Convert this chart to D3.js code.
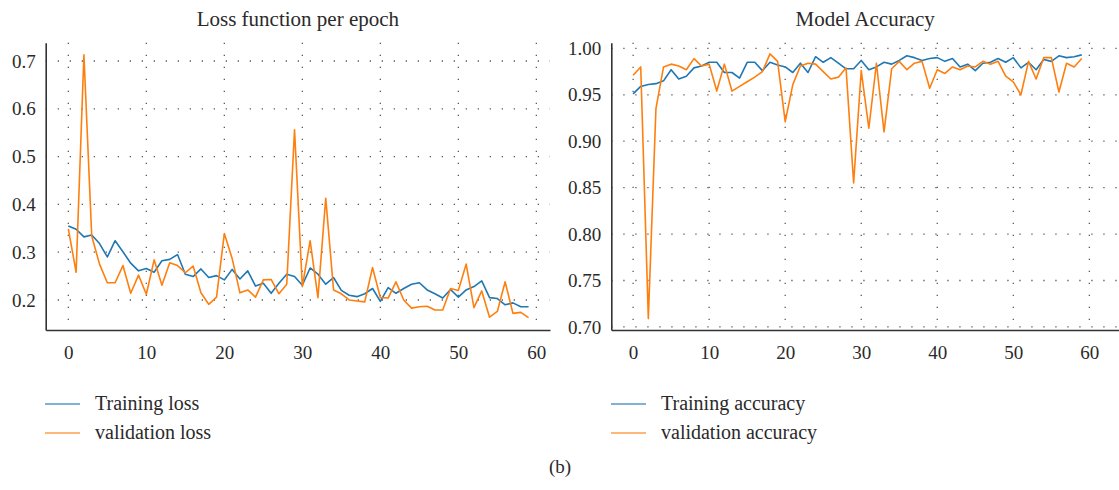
<!DOCTYPE html>
<html>
<head>
<meta charset="utf-8">
<script src="https://cdn.jsdelivr.net/npm/d3@7"></script>
<style>
  html, body { margin: 0; padding: 0; background: #fff; }
  svg { display: block; }
  text { font-family: "Liberation Serif", "DejaVu Serif", serif; fill: #2a2a2a; }
</style>
</head>
<body>
<svg id="fig" width="1119" height="490"></svg>
<script>
// Epoch-wise training history
const epochs = d3.range(0, 60);

const trainLoss = [
  0.355, 0.348, 0.332, 0.336, 0.318, 0.290, 0.324, 0.301, 0.277, 0.261,
  0.266, 0.258, 0.282, 0.285, 0.295, 0.254, 0.249, 0.265, 0.247, 0.251,
  0.242, 0.264, 0.244, 0.261, 0.229, 0.235, 0.214, 0.235, 0.254, 0.249,
  0.231, 0.267, 0.254, 0.233, 0.247, 0.220, 0.210, 0.207, 0.213, 0.224,
  0.197, 0.226, 0.214, 0.224, 0.233, 0.236, 0.221, 0.213, 0.204, 0.222,
  0.206, 0.221, 0.228, 0.240, 0.205, 0.203, 0.190, 0.194, 0.186, 0.186
];
const valLoss = [
  0.349, 0.258, 0.713, 0.334, 0.275, 0.236, 0.236, 0.272, 0.214, 0.252,
  0.212, 0.284, 0.231, 0.278, 0.272, 0.257, 0.271, 0.215, 0.191, 0.206,
  0.339, 0.287, 0.215, 0.221, 0.206, 0.242, 0.243, 0.213, 0.233, 0.556,
  0.228, 0.324, 0.205, 0.413, 0.221, 0.213, 0.200, 0.198, 0.196, 0.268,
  0.205, 0.204, 0.238, 0.200, 0.183, 0.186, 0.187, 0.179, 0.179, 0.224,
  0.220, 0.275, 0.184, 0.219, 0.164, 0.176, 0.238, 0.172, 0.174, 0.163
];
const trainAcc = [
  0.951, 0.959, 0.961, 0.962, 0.965, 0.977, 0.967, 0.970, 0.979, 0.981,
  0.985, 0.985, 0.974, 0.974, 0.968, 0.985, 0.985, 0.976, 0.985, 0.982,
  0.980, 0.974, 0.984, 0.974, 0.991, 0.985, 0.990, 0.984, 0.978, 0.978,
  0.987, 0.977, 0.980, 0.985, 0.983, 0.987, 0.992, 0.990, 0.987, 0.989,
  0.990, 0.986, 0.989, 0.980, 0.983, 0.976, 0.984, 0.985, 0.989, 0.985,
  0.990, 0.979, 0.985, 0.977, 0.988, 0.986, 0.992, 0.990, 0.991, 0.993
];
const valAcc = [
  0.971, 0.980, 0.709, 0.935, 0.980, 0.983, 0.981, 0.977, 0.989, 0.981,
  0.983, 0.954, 0.983, 0.954, 0.959, 0.964, 0.969, 0.975, 0.994, 0.986,
  0.921, 0.961, 0.981, 0.984, 0.983, 0.975, 0.967, 0.969, 0.979, 0.855,
  0.976, 0.914, 0.984, 0.910, 0.978, 0.986, 0.977, 0.984, 0.986, 0.957,
  0.977, 0.973, 0.980, 0.977, 0.981, 0.980, 0.986, 0.983, 0.986, 0.970,
  0.964, 0.950, 0.986, 0.967, 0.990, 0.990, 0.953, 0.984, 0.980, 0.989
];

const xTicks = [0, 10, 20, 30, 40, 50, 60];
const lossTicks = [0.2, 0.3, 0.4, 0.5, 0.6, 0.7];
const accTicks = [0.70, 0.75, 0.80, 0.85, 0.90, 0.95, 1.00];

const BLUE = "#1f77b4";
const ORANGE = "#ff7f0e";
const SERIF = '"Liberation Serif", "DejaVu Serif", serif';

const svg = d3.select("#fig");

function panel(cfg) {
  const g = svg.append("g");
  const x = d3.scaleLinear().domain(cfg.xDomain).range(cfg.xRange);
  const y = d3.scaleLinear().domain(cfg.yDomain).range(cfg.yRange);

  // dotted grid
  const grid = g.append("g")
    .attr("stroke", "#5a5a5a")
    .attr("stroke-width", 1.3)
    .attr("stroke-dasharray", "1.3,10.7")
    .attr("fill", "none");
  grid.selectAll("line.v").data(xTicks).join("line")
    .attr("class", "v")
    .attr("x1", d => x(d)).attr("x2", d => x(d))
    .attr("y1", cfg.yRange[1]).attr("y2", cfg.yRange[0]);
  grid.selectAll("line.h").data(cfg.yTicks).join("line")
    .attr("class", "h")
    .attr("stroke-dashoffset", -12)
    .attr("x1", cfg.xRange[0]).attr("x2", cfg.xRange[1])
    .attr("y1", d => y(d)).attr("y2", d => y(d));

  // axes
  const xAxis = d3.axisBottom(x).tickValues(xTicks).tickSize(0).tickPadding(16)
    .tickFormat(d3.format("d"));
  const yAxis = d3.axisLeft(y).tickValues(cfg.yTicks).tickSize(0).tickPadding(10)
    .tickFormat(cfg.yFormat);

  const gx = g.append("g").attr("transform", `translate(0,${cfg.yRange[0]})`).call(xAxis);
  const gy = g.append("g").attr("transform", `translate(${cfg.xRange[0]},0)`).call(yAxis);
  [gx, gy].forEach(a => {
    a.attr("font-family", SERIF).attr("font-size", 19);
    a.select(".domain").attr("stroke", "#333").attr("stroke-width", 1.6);
    a.selectAll("text").style("font-family", SERIF).attr("fill", "#2a2a2a");
  });

  // series
  const line = d3.line().x((d, i) => x(epochs[i])).y(d => y(d));
  cfg.series.forEach(s => {
    g.append("path").datum(s.values)
      .attr("fill", "none")
      .attr("stroke", s.color)
      .attr("stroke-width", 1.6)
      .attr("stroke-linejoin", "round")
      .attr("d", line);
  });

  // title
  g.append("text")
    .attr("x", (cfg.xRange[0] + cfg.xRange[1]) / 2)
    .attr("y", 26)
    .attr("text-anchor", "middle")
    .attr("font-size", 21)
    .text(cfg.title);

  // legend
  const lg = g.append("g");
  cfg.series.forEach((s, i) => {
    const yy = 404 + i * 29;
    lg.append("line")
      .attr("x1", cfg.legendX).attr("x2", cfg.legendX + 35)
      .attr("y1", yy).attr("y2", yy)
      .attr("stroke", s.color).attr("stroke-width", 1.6).attr("opacity", 0.75);
    lg.append("text")
      .attr("x", cfg.legendX + 50).attr("y", yy + 6)
      .attr("font-size", 20)
      .text(s.label);
  });
}

panel({
  title: "Loss function per epoch",
  xDomain: [-2.9, 61.75], xRange: [45.7, 550],
  yDomain: [0.1372, 0.7383], yRange: [330, 42.7],
  yTicks: lossTicks, yFormat: d3.format(".1f"),
  legendX: 45,
  series: [
    { label: "Training loss", values: trainLoss, color: BLUE },
    { label: "validation loss", values: valLoss, color: ORANGE }
  ]
});

panel({
  title: "Model Accuracy",
  xDomain: [-2.87, 63.9], xRange: [611.3, 1119],
  yDomain: [0.6967, 1.0061], yRange: [330, 42.7],
  yTicks: accTicks, yFormat: d3.format(".2f"),
  legendX: 611,
  series: [
    { label: "Training accuracy", values: trainAcc, color: BLUE },
    { label: "validation accuracy", values: valAcc, color: ORANGE }
  ]
});

svg.append("text")
  .attr("x", 560).attr("y", 473)
  .attr("text-anchor", "middle")
  .attr("font-size", 19)
  .text("(b)");
</script>
</body>
</html>
